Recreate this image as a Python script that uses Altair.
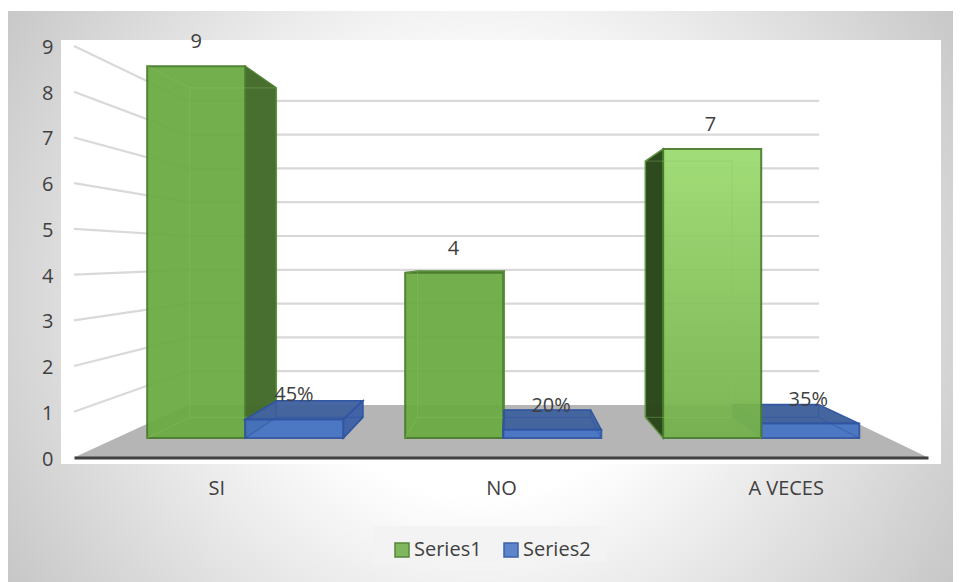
import altair as alt
import pandas as pd

categories = ["SI", "NO", "A VECES"]
series_names = ["Series1", "Series2"]
series1 = [9, 4, 7]
series2 = [0.45, 0.20, 0.35]
y_ticks = list(range(10))

# layout of the chart (pixels in the page-anchored chart box)
PAD_L, PAD_T = 66, 38
VIEW_W, VIEW_H = 854, 411.5
TOTAL_W, TOTAL_H = 945, 574
UNIT = VIEW_H / 9            # px per value on the front wall edge
BACK_UNIT = 33.8
FLOOR_RISE = 52.5
SLOPE = 0.261                # convergence of x with depth
CENTER = 1.535               # vanishing x in category units
T_FRONT, T_FRONT_X, T_BACK = 0.37, 0.359, 0.765
GAP, BAR = 0.125, 0.38
FONT = "Open Sans"
INK = "#404040"


def proj(u, v, t, tx=None):
    """Map a category-unit x, a value and a depth onto the two axis scales."""
    x = u + (t if tx is None else tx) * SLOPE * (CENTER - u)
    py = FLOOR_RISE * t + v * (UNIT - (UNIT - BACK_UNIT) * t)
    return x, py / UNIT


rows = []
for i, name_cat in enumerate(categories):
    for s, (name, vals) in enumerate(zip(series_names, [series1, series2])):
        u0, u1 = i + GAP + s * BAR, i + GAP + (s + 1) * BAR
        v = vals[i]
        fx0, fb = proj(u0, 0, T_FRONT, T_FRONT_X)
        fx1, ft = proj(u1, v, T_FRONT, T_FRONT_X)
        bx0, bb = proj(u0, 0, T_BACK)
        bx1, bt = proj(u1, v, T_BACK)
        cx, _ = proj((u0 + u1) / 2, v, T_FRONT)
        label = str(v) if s == 0 else f"{round(v * 100)}%"
        rows.append(dict(group=name_cat, i=i, series=name, s=s, fx0=fx0, fx1=fx1, fb=fb, ft=ft,
                         bx0=bx0, bx1=bx1, bb=bb, bt=bt, cx=cx, label=label))
bars = pd.DataFrame(rows)

X = alt.Scale(domain=[0, 3], range=[0, VIEW_W], nice=False, zero=False)
Y = alt.Scale(domain=[0, 9], range=[VIEW_H, 0], nice=False, zero=False)
X_AXIS = alt.Axis(
    title=None, values=[0.5, 1.5, 2.5], grid=False, ticks=False, domain=True,
    domainColor=INK, domainWidth=3, zindex=1, labelFont=FONT, labelFontSize=20,
    labelColor=INK, labelPadding=21,
    labelExpr="datum.value < 1 ? '%s' : datum.value < 2 ? '%s' : '%s'" % tuple(categories))
Y_AXIS = alt.Axis(
    title=None, values=y_ticks, grid=False, ticks=False, domain=False, zindex=1,
    labelFont=FONT, labelFontSize=20, labelColor=INK, labelPadding=21, labelOffset=1.5, format="d")
def xq(f): return alt.X(f + ":Q", scale=X, axis=X_AXIS)
def yq(f): return alt.Y(f + ":Q", scale=Y, axis=Y_AXIS)
COL = alt.Scale(domain=series_names, range=["#6cab43", "#4472c4"])
STR = alt.Scale(domain=series_names, range=["#4a7d2c", "#2f55a3"])
LEG_X, LEG_Y = 318, 494


def side_rows(df):
    out = []
    for _, r in df.iterrows():
        if r.bx1 > r.fx1:      # right side faces the viewer
            out += [dict(k=r.group, x=r.fx1, y=r.ft, y2=r.fb), dict(k=r.group, x=r.bx1, y=r.bt, y2=r.bb)]
        else:                  # left side faces the viewer
            out += [dict(k=r.group, x=r.bx0, y=r.bt, y2=r.bb), dict(k=r.group, x=r.fx0, y=r.ft, y2=r.fb)]
    return pd.DataFrame(out)


def top_rows(df):
    out = []
    for _, r in df.iterrows():
        if r.bt > r.ft:
            out += [dict(k=r.group, y=r.ft, x=r.fx0, x2=r.fx1), dict(k=r.group, y=r.bt, x=r.bx0, x2=r.bx1)]
    return pd.DataFrame(out)


def side(df, fill, stroke, op=0.97):
    return alt.Chart(side_rows(df)).mark_area(fill=fill, stroke=stroke, strokeWidth=1.5, opacity=op).encode(
        x=xq("x"), y=yq("y"), y2="y2:Q", detail="k:N")


def top(df, fill, stroke, op=0.97):
    return alt.Chart(top_rows(df)).mark_area(orient="horizontal", fill=fill, stroke=stroke, strokeWidth=1.5, opacity=op).encode(
        y=yq("y"), x=xq("x"), x2="x2:Q", detail="k:N")


def inner(df, stroke, op):
    back = alt.Chart(df).mark_rect(filled=False, stroke=stroke, strokeWidth=1.2, strokeOpacity=op).encode(
        x=xq("bx0"), x2="bx1:Q", y=yq("bb"), y2="bt:Q")
    d0 = alt.Chart(df).mark_rule(stroke=stroke, strokeWidth=1.2, opacity=op).encode(
        x=xq("fx0"), x2="bx0:Q", y=yq("fb"), y2="bb:Q")
    d1 = alt.Chart(df).mark_rule(stroke=stroke, strokeWidth=1.2, opacity=op).encode(
        x=xq("fx0"), x2="bx0:Q", y=yq("ft"), y2="bt:Q")
    d2 = alt.Chart(df).mark_rule(stroke=stroke, strokeWidth=1.2, opacity=op).encode(
        x=xq("fx1"), x2="bx1:Q", y=yq("fb"), y2="bb:Q")
    return [back, d0, d1, d2]


def front(df, op):
    return alt.Chart(df).mark_rect(strokeWidth=2, opacity=op).encode(
        x=xq("fx0"), x2="fx1:Q", y=yq("fb"), y2="ft:Q",
        color=alt.Color("series:N", scale=COL, legend=alt.Legend(
            title=None, orient="none", legendX=LEG_X, legendY=LEG_Y, direction="horizontal",
            symbolType="square", symbolSize=196, symbolStrokeWidth=1.5, symbolOpacity=1,
            labelFontSize=20, labelFont=FONT, labelColor=INK, columnPadding=19,
            labelOffset=2)),
        stroke=alt.Stroke("series:N", scale=STR, legend=alt.Legend(title=None, orient="none", legendX=LEG_X, legendY=LEG_Y)),
    )


one = pd.DataFrame({"a": [0]})
# square box so the radial shading stays round; the page box crops it
background = alt.Chart(one).mark_rect(color=alt.RadialGradient(
    gradient="radial", x1=0.5, y1=0.5, x2=0.5, y2=0.5, r1=0, r2=0.62,
    stops=[alt.GradientStop(offset=0.35, color="#ffffff"),
           alt.GradientStop(offset=1, color="#c2c2c2")])).encode(
    x=alt.value(-PAD_L), x2=alt.value(TOTAL_W - PAD_L), y=alt.value(-228), y2=alt.value(717))
top_strip = alt.Chart(one).mark_rect(color="#ffffff").encode(
    x=alt.value(-PAD_L), x2=alt.value(TOTAL_W - PAD_L), y=alt.value(-PAD_T), y2=alt.value(-PAD_T + 3))
panel = alt.Chart(one).mark_rect(color="#ffffff").encode(
    x=alt.value(-13), x2=alt.value(867), y=alt.value(-6), y2=alt.value(418))
legend_panel = alt.Chart(one).mark_rect(color="#f3f3f3").encode(
    x=alt.value(300), x2=alt.value(533), y=alt.value(480), y2=alt.value(516))

# walls and floor
grid_rows = []
for v in y_ticks[1:]:
    x0, y0 = proj(0, v, 0)
    x1, y1 = proj(0, v, 1)
    x2, y2 = proj(3, v, 1)
    grid_rows.append(dict(x=x0, x2=x1, y=y0, y2=y1))
    grid_rows.append(dict(x=x1, x2=x2, y=y1, y2=y1))
grid = alt.Chart(pd.DataFrame(grid_rows)).mark_rule(stroke="#d9d9d9", strokeWidth=2.2).encode(
    x=xq("x"), x2="x2:Q", y=yq("y"), y2="y2:Q")

fx0, fy = proj(0, 0, 0)
fx1, _ = proj(3, 0, 0)
bx0, by = proj(0, 0, 1)
bx1, _ = proj(3, 0, 1)
floor = alt.Chart(pd.DataFrame([dict(y=fy, x=fx0, x2=fx1), dict(y=by, x=bx0, x2=bx1)])).mark_area(
    orient="horizontal", fill="#b5b5b5").encode(y=yq("y"), x=xq("x"), x2="x2:Q")

g = bars[bars.s == 0]
b = bars[bars.s == 1]
b_early = b[b.i == 2]
b_late = b[b.i < 2]
g_dark = g[g.i == 2]
g_mid = g[g.i < 2]

BLUE_TOP, BLUE_SIDE, BLUE_LINE = "#42639f", "#3f62a6", "#2f55a3"


def blue(df):
    return [top(df, BLUE_TOP, BLUE_LINE), side(df, BLUE_SIDE, BLUE_LINE), front(df, 0.92)] + inner(df, BLUE_LINE, 0.55)


gradient_front = alt.Chart(g_dark).mark_rect(
    stroke="#4a7d2c", strokeWidth=2, opacity=0.94,
    color=alt.LinearGradient(gradient="linear", x1=0, y1=0, x2=0, y2=1, stops=[
        alt.GradientStop(offset=0, color="#9cdb70"), alt.GradientStop(offset=1, color="#74b04a")])
).encode(x=xq("fx0"), x2="fx1:Q", y=yq("fb"), y2="ft:Q")

labels = alt.Chart(bars).mark_text(
    font=FONT, fontSize=20, color=INK, dy=-24, dx=-1).encode(
    x=xq("cx"), y=yq("ft"), text="label:N")

layers = [background, top_strip, panel, legend_panel, grid, floor]
layers += blue(b_early)
layers += [side(g_mid, "#436b2a", "#4a7d2c"), side(g_dark, "#284518", "#4a7d2c"),
           top(g_mid, "#5b8c3a", "#4a7d2c"),
           front(g_mid, 0.95), gradient_front]
layers += inner(g, "#8cc366", 0.3)
layers += blue(b_late)
layers += [labels]

chart = alt.layer(*layers).resolve_scale(x="shared", y="shared").properties(
    width=VIEW_W, height=VIEW_H,
    padding={"left": PAD_L, "top": PAD_T, "right": TOTAL_W - PAD_L - VIEW_W, "bottom": TOTAL_H - PAD_T - VIEW_H},
    autosize=alt.AutoSizeParams(type="none"),
).configure_view(stroke=None)

chart.save("out.html", embed_options={"renderer": "svg", "actions": False})
